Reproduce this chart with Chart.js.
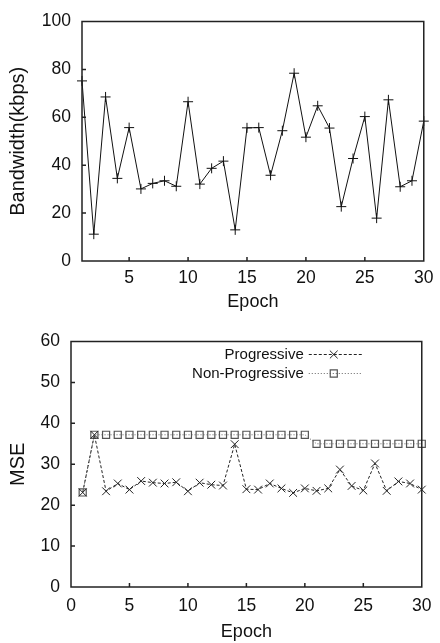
<!DOCTYPE html>
<html>
<head>
<meta charset="utf-8">
<script src="https://cdn.jsdelivr.net/npm/chart.js@4.4.0/dist/chart.umd.min.js"></script>
<style>
  html, body { margin: 0; padding: 0; background: #fff; }
  #wrap { position: relative; width: 440px; height: 643px; }
  canvas { position: absolute; left: 0; }
  #bwChart  { top: 0; }
  #mseChart { top: 320px; }
</style>
</head>
<body>
<div id="wrap">
  <canvas id="bwChart" width="440" height="320"></canvas>
  <canvas id="mseChart" width="440" height="323"></canvas>
</div>
<script>
// ── Data ─────────────────────────────────────────────
const EPOCHS = [1,2,3,4,5,6,7,8,9,10,11,12,13,14,15,16,17,18,19,20,21,22,23,24,25,26,27,28,29,30];
const BANDWIDTH = [75.2,11.2,68.5,34.5,55.7,30.1,32.4,33.5,31.2,66.5,32.1,38.7,41.7,13.0,55.6,55.7,
                   35.8,54.4,78.4,51.7,64.8,55.5,22.7,42.8,60.3,17.9,67.3,31.0,33.5,58.4];
const PROGRESSIVE = [23.1,37.2,23.4,25.3,23.8,25.9,25.5,25.3,25.6,23.4,25.5,25.0,24.8,34.9,23.9,
                     23.8,25.3,24.1,23.0,24.1,23.5,24.1,28.7,24.7,23.6,30.2,23.5,25.8,25.3,23.8];
const NON_PROGRESSIVE = [23.1,37.2,37.2,37.2,37.2,37.2,37.2,37.2,37.2,37.2,37.2,37.2,37.2,37.2,37.2,
                         37.2,37.2,37.2,37.2,37.2,35.0,35.0,35.0,35.0,35.0,35.0,35.0,35.0,35.0,35.0];

const BW_X_TICKS  = [5,10,15,20,25,30];
const BW_Y_TICKS  = [0,20,40,60,80,100];
const MSE_X_TICKS = [0,5,10,15,20,25,30];
const MSE_Y_TICKS = [0,10,20,30,40,50,60];

// ── Helpers ──────────────────────────────────────────
const FONT = "'Liberation Sans', Arial, Helvetica, sans-serif";
const INK  = "#111";
const xy = (xs, ys) => xs.map((x, i) => ({ x, y: ys[i] }));
const fixedTicks = vals => scale => { scale.ticks = vals.map(v => ({ value: v })); };

// box round the plot + small ticks pointing inwards (gnuplot look)
const framePlugin = {
  id: "frame",
  afterDraw(chart) {
    const { ctx, chartArea: a, scales } = chart;
    ctx.save();
    ctx.strokeStyle = "#222";
    ctx.lineWidth = 1.5;
    ctx.beginPath();
    scales.x.ticks.forEach(t => {
      const px = scales.x.getPixelForValue(t.value);
      if (px <= a.left + 1 || px >= a.right - 1) return;
      ctx.moveTo(px, a.bottom); ctx.lineTo(px, a.bottom - 4);
    });
    scales.y.ticks.forEach(t => {
      const py = scales.y.getPixelForValue(t.value);
      if (py <= a.top + 1 || py >= a.bottom - 1) return;
      ctx.moveTo(a.left, py); ctx.lineTo(a.left + 4, py);
    });
    ctx.stroke();
    ctx.strokeRect(a.left, a.top, a.right - a.left, a.bottom - a.top);
    ctx.restore();
  }
};

// legend inside top right: label, then line sample with marker
const keyPlugin = {
  id: "key",
  afterDraw(chart) {
    const { ctx, chartArea: a } = chart;
    ctx.save();
    ctx.font = "15px " + FONT;
    ctx.textAlign = "right";
    ctx.textBaseline = "middle";
    chart.data.datasets.forEach((d, i) => {
      const y = a.top + 13 + i * 19;
      const tx = a.right - 118;
      ctx.fillStyle = INK;
      ctx.fillText(d.label, tx, y);
      ctx.strokeStyle = d.borderColor;
      ctx.lineWidth = 1;
      ctx.setLineDash(d.borderDash);
      ctx.beginPath();
      ctx.moveTo(tx + 5, y); ctx.lineTo(tx + 58, y);
      ctx.stroke();
      ctx.setLineDash([]);
      ctx.strokeStyle = d.pointBorderColor;
      ctx.fillStyle = "rgba(0,0,0,0)";
      ctx.lineWidth = d.pointBorderWidth;
      Chart.helpers.drawPoint(ctx, {
        pointStyle: d.pointStyle, radius: d.pointRadius, rotation: 0,
        borderWidth: d.pointBorderWidth
      }, tx + 30, y);
    });
    ctx.restore();
  }
};

function axes(xMin, xMax, xTicks, yMax, yTicks, yTitle, xTitlePad, xTickPad, yWidth, xHeight) {
  return {
    x: {
      type: "linear", min: xMin, max: xMax,
      afterBuildTicks: fixedTicks(xTicks),
      afterFit: s => { s.height = xHeight; },
      grid: { display: false, drawTicks: false },
      border: { display: false },
      ticks: { color: INK, padding: xTickPad, font: { family: FONT, size: 17.5 } },
      title: { display: true, text: "Epoch", color: INK, padding: { top: 0, bottom: xTitlePad },
               font: { family: FONT, size: 18 } }
    },
    y: {
      type: "linear", min: 0, max: yMax,
      afterBuildTicks: fixedTicks(yTicks),
      afterFit: s => { s.width = yWidth; },
      grid: { display: false, drawTicks: false },
      border: { display: false },
      ticks: { color: INK, padding: 11, font: { family: FONT, size: 17.5 } },
      title: { display: true, text: yTitle, color: INK, padding: { top: 6, bottom: 0 },
               font: { family: FONT, size: 20 } }
    }
  };
}

const common = {
  responsive: false,
  animation: false,
  events: [],
  plugins: { legend: { display: false }, tooltip: { enabled: false } }
};

// ── Bandwidth ────────────────────────────────────────
new Chart(document.getElementById("bwChart"), {
  type: "line",
  data: {
    datasets: [{
      label: "Bandwidth",
      data: xy(EPOCHS, BANDWIDTH),
      borderColor: "#111",
      borderWidth: 1,
      pointStyle: "cross",
      pointRadius: 5,
      pointBorderColor: "#111",
      pointBorderWidth: 1,
      tension: 0,
      clip: false
    }]
  },
  options: {
    ...common,
    layout: { padding: { top: 14, right: 14, left: 0, bottom: 0 } },
    scales: axes(1, 30, BW_X_TICKS, 100, BW_Y_TICKS, "Bandwidth(kbps)", 7, 6.5, 82, 59)
  },
  plugins: [framePlugin]
});

// ── MSE ──────────────────────────────────────────────
new Chart(document.getElementById("mseChart"), {
  type: "line",
  data: {
    datasets: [{
      label: "Progressive",
      data: xy(EPOCHS, PROGRESSIVE),
      borderColor: "#222",
      borderWidth: 1,
      borderDash: [3, 2],
      pointStyle: "crossRot",
      pointRadius: 5.5,
      pointBorderColor: "#222",
      pointBorderWidth: 1,
      tension: 0,
      clip: false
    }, {
      label: "Non-Progressive",
      data: xy(EPOCHS, NON_PROGRESSIVE),
      borderColor: "#666",
      borderWidth: 1,
      borderDash: [1, 2],
      pointStyle: "rect",
      pointRadius: 5,
      pointBorderColor: "#555",
      pointBackgroundColor: "rgba(0,0,0,0)",
      pointBorderWidth: 1.2,
      tension: 0,
      clip: false
    }]
  },
  options: {
    ...common,
    layout: { padding: { top: 21, right: 14, left: 0, bottom: 0 } },
    scales: axes(0, 30, MSE_X_TICKS, 60, MSE_Y_TICKS, "MSE", 0, 8.5, 71, 56)
  },
  plugins: [framePlugin, keyPlugin]
});
</script>
</body>
</html>
